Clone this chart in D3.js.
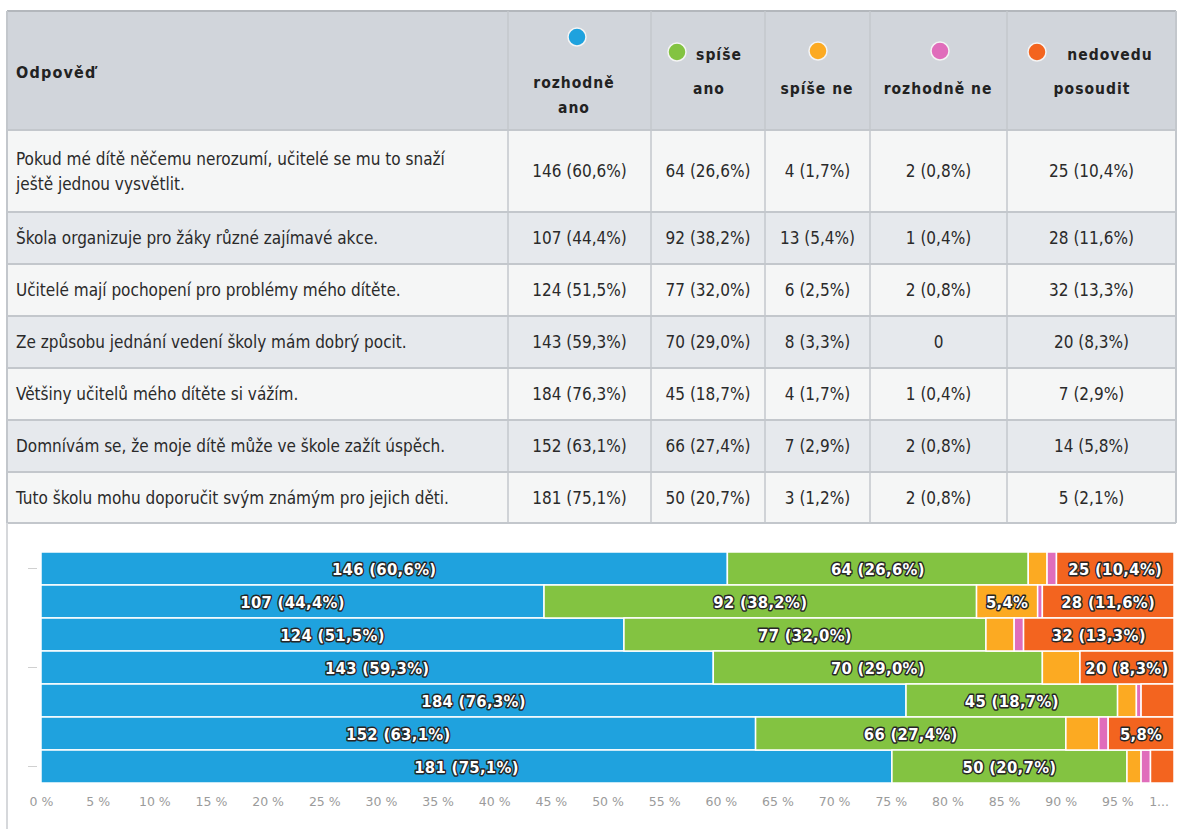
<!DOCTYPE html>
<html lang="cs">
<head>
<meta charset="utf-8" />
<title>Odpovědi</title>
<style>
  body { margin: 0; background: #fff; }
</style>
</head>
<body>
<div id="graph"></div>
<script src="https://d3js.org/d3.v7.min.js"></script>
<script>
var W = 1182, H = 829;

// ---- data ----
var categories = [
  "Pokud mé dítě něčemu nerozumí, učitelé se mu to snaží ještě jednou vysvětlit.",
  "Škola organizuje pro žáky různé zajímavé akce.",
  "Učitelé mají pochopení pro problémy mého dítěte.",
  "Ze způsobu jednání vedení školy mám dobrý pocit.",
  "Většiny učitelů mého dítěte si vážím.",
  "Domnívám se, že moje dítě může ve škole zažít úspěch.",
  "Tuto školu mohu doporučit svým známým pro jejich děti."
];
var seriesNames = ["rozhodně ano", "spíše ano", "spíše ne", "rozhodně ne", "nedovedu posoudit"];
var rozhodneAno = [146, 107, 124, 143, 184, 152, 181];
var spiseAno    = [64, 92, 77, 70, 45, 66, 50];
var spiseNe     = [4, 13, 6, 8, 4, 7, 3];
var rozhodneNe  = [2, 1, 2, 0, 1, 2, 2];
var nedovedu    = [25, 28, 32, 20, 7, 14, 5];
var tickValues  = [0, .05, .1, .15, .2, .25, .3, .35, .4, .45, .5, .55, .6, .65, .7, .75, .8, .85, .9, .95, 1];
var tickLabels  = ["0 %", "5 %", "10 %", "15 %", "20 %", "25 %", "30 %", "35 %", "40 %", "45 %", "50 %",
                   "55 %", "60 %", "65 %", "70 %", "75 %", "80 %", "85 %", "90 %", "95 %", "1..."];

var seriesColors = ["#1fa2de", "#83c341", "#fcaa22", "#e06dbb", "#f3641f"];
var allSeries = [rozhodneAno, spiseAno, spiseNe, rozhodneNe, nedovedu];

var rows = categories.map(function (c, i) {
  var o = { cat: c };
  seriesNames.forEach(function (s, j) { o[s] = allSeries[j][i]; });
  o.total = d3.sum(allSeries, function (a) { return a[i]; });
  return o;
});

function pctText(v, total) {
  return d3.format(".1f")(v / total * 100).replace(".", ",") + "%";
}
function cellText(v, total) {
  return v === 0 ? "0" : v + " (" + pctText(v, total) + ")";
}

var condensed = "'DejaVu Sans Condensed', 'DejaVu Sans', sans-serif";

var svg = d3.select("#graph").append("svg")
  .attr("width", W).attr("height", H);

// ---- table ----
var colEdges = [7, 508, 651, 765, 870, 1007, 1176];
var headTop = 11, headBottom = 130;
var rowHeights = [82, 52, 52, 52, 52, 52, 51];
var rowTops = [headBottom];
rowHeights.forEach(function (h, i) { rowTops.push(rowTops[i] + h); });
var tableBottom = rowTops[rowTops.length - 1];

var table = svg.append("g").attr("class", "table")
  .attr("font-family", condensed)
  .attr("font-stretch", "condensed");

table.append("rect")
  .attr("x", colEdges[0]).attr("y", headTop)
  .attr("width", colEdges[6] - colEdges[0]).attr("height", headBottom - headTop)
  .attr("fill", "#d1d5db");

table.selectAll("rect.rowbg")
  .data(rows)
  .enter().append("rect")
  .attr("class", "rowbg")
  .attr("x", colEdges[0])
  .attr("y", function (d, i) { return rowTops[i]; })
  .attr("width", colEdges[6] - colEdges[0])
  .attr("height", function (d, i) { return rowHeights[i]; })
  .attr("fill", function (d, i) { return i % 2 ? "#e6e9ed" : "#f5f6f6"; });

// grid lines
table.selectAll("line.hline")
  .data([headTop].concat(rowTops))
  .enter().append("line")
  .attr("class", "hline")
  .attr("x1", colEdges[0]).attr("x2", colEdges[6])
  .attr("y1", function (d) { return d; }).attr("y2", function (d) { return d; })
  .attr("stroke", function (d, i) { return i === 0 ? "#b3b7bc" : "#c3c7cc"; })
  .attr("stroke-width", 2);

table.selectAll("line.vline")
  .data(colEdges)
  .enter().append("line")
  .attr("class", "vline")
  .attr("x1", function (d) { return d; }).attr("x2", function (d) { return d; })
  .attr("y1", headTop).attr("y2", tableBottom)
  .attr("stroke", "#c3c7cc")
  .attr("stroke-width", function (d, i) { return i === 0 || i === 6 ? 2 : 1.5; });

// header
var headFont = { size: "15.5px", weight: "bold", spacing: "1px" };
table.append("text")
  .attr("x", 16).attr("y", 78)
  .attr("font-size", "16px").attr("font-weight", headFont.weight)
  .attr("letter-spacing", "1.2px")
  .attr("fill", "#222")
  .text("Odpověď");

// per column: dot position and wrapped text lines (layout only)
var headerLayout = [
  { dot: [577, 37], lines: [["rozhodně", 574, 88], ["ano", 574, 113]] },
  { dot: [677, 52], lines: [["spíše", 719, 60], ["ano", 709, 94]] },
  { dot: [818, 51], lines: [["spíše ne", 817, 94]] },
  { dot: [940, 51], lines: [["rozhodně ne", 938, 94]] },
  { dot: [1037, 52], lines: [["nedovedu", 1110, 60], ["posoudit", 1092, 94]] }
];

var heads = table.selectAll("g.head")
  .data(seriesNames)
  .enter().append("g").attr("class", "head");

heads.append("circle")
  .attr("cx", function (d, i) { return headerLayout[i].dot[0]; })
  .attr("cy", function (d, i) { return headerLayout[i].dot[1]; })
  .attr("r", 9)
  .attr("fill", function (d, i) { return seriesColors[i]; })
  .attr("stroke", "#f4f4f4").attr("stroke-width", 1.5);

heads.each(function (d, i) {
  d3.select(this).selectAll("text")
    .data(headerLayout[i].lines)
    .enter().append("text")
    .attr("x", function (l) { return l[1]; })
    .attr("y", function (l) { return l[2]; })
    .attr("text-anchor", "middle")
    .attr("font-size", headFont.size).attr("font-weight", headFont.weight)
    .attr("letter-spacing", headFont.spacing)
    .attr("fill", "#222")
    .text(function (l) { return l[0]; });
});

// body
var bodyFont = "17px";
var firstColLines = ["Pokud mé dítě něčemu nerozumí, učitelé se mu to snaží", "ještě jednou vysvětlit."];
var rowG = table.selectAll("g.row")
  .data(rows)
  .enter().append("g").attr("class", "row");

rowG.each(function (d, i) {
  var g = d3.select(this);
  var cy = rowTops[i] + rowHeights[i] / 2;
  var lines = i === 0 ? firstColLines : [d.cat];
  g.selectAll("text.cat")
    .data(lines)
    .enter().append("text")
    .attr("class", "cat")
    .attr("x", 16)
    .attr("y", function (l, k) { return cy + 6 + (k - (lines.length - 1) / 2) * 25; })
    .attr("font-size", bodyFont)
    .attr("fill", "#2a2a2a")
    .text(function (l) { return l; });
  g.selectAll("text.val")
    .data(seriesNames)
    .enter().append("text")
    .attr("class", "val")
    .attr("x", function (s, j) { return (colEdges[j + 1] + colEdges[j + 2]) / 2; })
    .attr("y", cy + 6)
    .attr("text-anchor", "middle")
    .attr("font-size", bodyFont)
    .attr("fill", "#2a2a2a")
    .text(function (s) { return cellText(d[s], d.total); });
});

// ---- stacked bar chart ----
var chartTop = 552, chartBottom = 783;
svg.append("line")
  .attr("x1", 7).attr("x2", 7)
  .attr("y1", tableBottom).attr("y2", H)
  .attr("stroke", "#d6d8db").attr("stroke-width", 2);

var x = d3.scaleLinear().domain([0, 1]).range([41, 1174]);
var y = d3.scaleBand().domain(categories).range([chartTop, chartBottom]).padding(0);

var stacked = d3.stack()
  .keys(seriesNames)
  .offset(d3.stackOffsetExpand)(rows);

var layers = svg.append("g").attr("class", "bars")
  .selectAll("g")
  .data(stacked)
  .enter().append("g")
  .attr("fill", function (d, i) { return seriesColors[i]; });

layers.selectAll("rect")
  .data(function (d) { return d; })
  .enter().append("rect")
  .attr("x", function (d) { return x(d[0]); })
  .attr("y", function (d) { return y(d.data.cat); })
  .attr("width", function (d) { return Math.max(0, x(d[1]) - x(d[0])); })
  .attr("height", y.bandwidth())
  .attr("stroke", "#fff").attr("stroke-width", 1.5);

// labels with outline
var labelG = svg.append("g").attr("class", "labels")
  .attr("font-family", condensed)
  .attr("font-stretch", "condensed");
stacked.forEach(function (layer) {
  layer.forEach(function (d) {
    var v = d.data[layer.key];
    if (!v) return;
    var w = x(d[1]) - x(d[0]);
    var t = labelG.append("text")
      .attr("x", (x(d[0]) + x(d[1])) / 2)
      .attr("y", y(d.data.cat) + y.bandwidth() / 2 + 6)
      .attr("text-anchor", "middle")
      .attr("font-weight", "bold")
      .attr("font-size", "16.5px")
      .attr("letter-spacing", "0.3px")
      .attr("fill", "#fff")
      .attr("stroke", "#262626")
      .attr("stroke-width", 2.8)
      .attr("stroke-linejoin", "round")
      .attr("paint-order", "stroke")
      .text(cellText(v, d.data.total));
    if (t.node().getComputedTextLength() > w - 2) {
      t.text(pctText(v, d.data.total));
      if (t.node().getComputedTextLength() > w - 2) t.remove();
    }
  });
});

// category axis ticks (every third)
svg.append("g").selectAll("line")
  .data(categories.filter(function (c, i) { return i % 3 === 0; }))
  .enter().append("line")
  .attr("x1", 28).attr("x2", 37)
  .attr("y1", function (c) { return y(c) + y.bandwidth() / 2; })
  .attr("y2", function (c) { return y(c) + y.bandwidth() / 2; })
  .attr("stroke", "#d0d0d0");

// percent axis
var xAxis = d3.axisBottom(x)
  .tickValues(tickValues)
  .tickSize(0)
  .tickPadding(0)
  .tickFormat(function (d, i) { return tickLabels[i]; });

var ax = svg.append("g")
  .attr("transform", "translate(0," + 797 + ")")
  .call(xAxis);
ax.select(".domain").remove();
ax.selectAll("text")
  .attr("font-family", "'DejaVu Sans', sans-serif")
  .attr("font-size", "12.5px")
  .attr("fill", "#9b9b9b")
  .attr("dy", "0.71em");
// keep the truncated last label inside the plot edge
ax.selectAll("text").each(function () {
  var b = this.getBBox();
  var over = b.x + b.width - 2 - (x.range()[1] - 12);
  var tx = +d3.select(this.parentNode).attr("transform").match(/translate\(([-\d.]+)/)[1];
  if (tx + b.x + b.width > x.range()[1] - 5) {
    d3.select(this).attr("dx", -(tx + b.x + b.width - (x.range()[1] - 5)));
  }
});
</script>
</body>
</html>
